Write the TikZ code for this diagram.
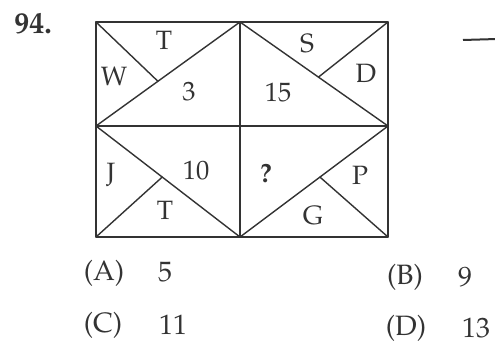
\documentclass[tikz,border=0pt]{standalone}
\usepackage[T1]{fontenc}
\usepackage{mathpazo}
\usetikzlibrary{calc}
\definecolor{ink}{gray}{0.2}
\tikzset{
  grid/.style={draw=ink, line width=1.4pt, line join=round, line cap=round},
  lab/.style={text=ink, inner sep=0pt, font=\fontsize{26.5}{26.5}\selectfont},
  opt/.style={text=ink, inner sep=0pt, font=\fontsize{28}{28}\selectfont},
}
\begin{document}
\begin{tikzpicture}[x=1pt,y=-1pt]
\useasboundingbox[fill=white] (0,0) rectangle (495,350);
% corner coordinates
\coordinate (tl) at (96,22);
\coordinate (tm) at (240,22);
\coordinate (tr) at (388,22);
\coordinate (ml) at (96,126);
\coordinate (mm) at (240,126);
\coordinate (mr) at (388,126);
\coordinate (bl) at (96,237);
\coordinate (bm) at (240,237);
\coordinate (br) at (388,237);
% inner meeting points
\coordinate (p1) at ($(ml)!0.43!(tm)$);
\coordinate (p2) at ($(tm)!0.53!(mr)$);
\coordinate (p3) at ($(ml)!0.46!(bm)$);
\coordinate (p4) at ($(bm)!0.54!(mr)$);
% frame
\draw[grid] (tl) rectangle (br);
\draw[grid] (tm) -- (bm);
\draw[grid] (ml) -- (mr);
% diagonals
\draw[grid] (ml) -- (tm);
\draw[grid] (tm) -- (mr);
\draw[grid] (ml) -- (bm);
\draw[grid] (bm) -- (mr);
% inner strokes
\draw[grid] (tl) -- (p1);
\draw[grid] (tr) -- (p2);
\draw[grid] (bl) -- (p3);
\draw[grid] (br) -- (p4);
% labels
\node[lab] (lT1) at (164,40) {T};
\node[lab] (lW) at (114,76) {W};
\node[lab] (l3) at (189,92) {3};
\node[lab] (lS) at (307,44) {S};
\node[lab] (lD) at (366,73) {D};
\node[lab] (l15) at (278,93) {15};
\node[lab] (lJ) at (111,175) {J};
\node[lab] (l10) at (196,171) {10};
\node[lab] (lT2) at (165,210) {T};
\node[lab] (lq) at (266,173) {\bfseries ?};
\node[lab] (lP) at (360,175) {P};
\node[lab] (lG) at (313,216) {G};
% question number
\node[text=ink, inner sep=0pt, font=\fontsize{30}{30}\selectfont\bfseries] (num) at (33,24) {94.};
% stray dash at right edge
\coordinate (d1) at (463,40);
\coordinate (d2) at (497,39);
\draw[ink, line width=2pt] (d1) -- (d2);
% options
\node[opt] (oA) at (104,273) {(A)};
\node[opt] (vA) at (165,272) {5};
\node[opt] (oB) at (405,277) {(B)};
\node[opt] (vB) at (465,277) {9};
\node[opt] (oC) at (103,325) {(C)};
\node[opt] (vC) at (173,325) {11};
\node[opt] (oD) at (406,328) {(D)};
\node[opt] (vD) at (476,328) {13};
\end{tikzpicture}
\end{document}
